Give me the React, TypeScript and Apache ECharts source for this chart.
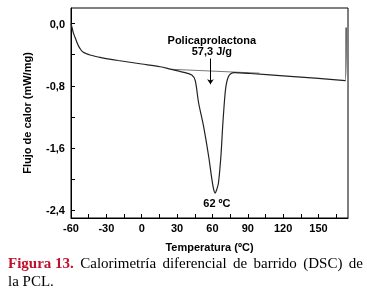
import React, { useEffect, useRef } from "react";
import * as echarts from "echarts";

const curveX = [-60, -59, -58, -56.6, -55, -53.8, -51.5, -49.5, -46.7, -43.9, -35.4, -20, 0, 15.6, 24.1, 35, 42.5, 45.4, 48.2, 52.4, 56.7, 59.5, 61, 62.3, 63.5, 65.1, 67.2, 68.9, 70.8, 72, 73.6, 75.5, 78.5, 92, 120, 150, 172.8, 173.4];
const curveY = [0, -0.06, -0.12, -0.177, -0.24, -0.284, -0.34, -0.37, -0.39, -0.404, -0.435, -0.475, -0.52, -0.555, -0.585, -0.625, -0.662, -0.735, -1.015, -1.316, -1.7, -2.0, -2.13, -2.18, -2.14, -2.05, -1.7, -1.27, -0.886, -0.76, -0.68, -0.645, -0.632, -0.642, -0.672, -0.706, -0.735, -0.05];
const baselineX = [25, 100];
const baselineY = [-0.588, -0.638];
const xLabels = [-60, -30, 0, 30, 60, 90, 120, 150];
const xTicks = [-60, -45, -30, -15, 0, 15, 30, 45, 60, 75, 90, 105, 120, 135, 150, 165];
const yLabels = [-2.4, -1.6, -0.8, 0];
const yTicks = [-2.4, -2.0, -1.6, -1.2, -0.8, -0.4, 0];
const captionWords = ["Figura 13.", "Calorimetría", "diferencial", "de", "barrido", "(DSC)", "de"];
const captionLine2 = "la PCL.";

const FONT = "'Liberation Sans', Arial, sans-serif";
const SERIF = "'Liberation Serif', 'Times New Roman', serif";

function measure(text: string, font: string): number {
  const c = document.createElement("canvas");
  const ctx = c.getContext("2d");
  if (!ctx) return text.length * 7;
  ctx.font = font;
  return ctx.measureText(text).width;
}

export default function App() {
  const ref = useRef<HTMLDivElement>(null);
  useEffect(() => {
    if (!ref.current) return;
    const chart = echarts.init(ref.current, null, { renderer: "svg" });
    const curve = curveX.map((x, i) => [x, curveY[i]]);
    const baseline = baselineX.map((x, i) => [x, baselineY[i]]);

    const fonts = captionWords.map((_, i) => (i === 0 ? `bold 15px ${SERIF}` : `15px ${SERIF}`));
    const widths = captionWords.map((w, i) => measure(w, fonts[i]));
    const total = widths.reduce((a, b) => a + b, 0);
    const lineStart = 8;
    const lineEnd = 363;
    const gap = (lineEnd - lineStart - total) / (captionWords.length - 1);
    let cx = lineStart;
    const captionEls: any[] = captionWords.map((w, i) => {
      const el = {
        type: "text",
        x: cx,
        y: 263,
        style: {
          text: w,
          font: fonts[i],
          fill: i === 0 ? "#c0102a" : "#000",
          verticalAlign: "middle",
          align: "left",
        },
      };
      cx += widths[i] + gap;
      return el;
    });
    captionEls.push({
      type: "text",
      x: lineStart,
      y: 281,
      style: { text: captionLine2, font: `15px ${SERIF}`, fill: "#000", verticalAlign: "middle", align: "left" },
    });

    chart.setOption({
      animation: false,
      grid: {
        left: 71,
        right: 19,
        top: 8,
        bottom: 77,
        show: true,
        borderColor: "#000",
        borderWidth: 1,
      },
      xAxis: {
        type: "value",
        min: -60,
        max: 175,
        name: "Temperatura (ºC)",
        nameLocation: "middle",
        nameGap: 23,
        nameTextStyle: { fontFamily: FONT, fontWeight: "bold", fontSize: 11, color: "#000" },
        axisLine: { show: true, onZero: false, lineStyle: { color: "#000", width: 1 } },
        axisTick: { show: true, inside: true, length: 4, customValues: xTicks, lineStyle: { color: "#000" } },
        axisLabel: {
          customValues: xLabels,
          margin: 4,
          fontFamily: FONT,
          fontWeight: "bold",
          fontSize: 11,
          color: "#000",
        },
        splitLine: { show: false },
      },
      yAxis: {
        type: "value",
        min: -2.5,
        max: 0.2,
        name: "Flujo de calor (mW/mg)",
        nameLocation: "middle",
        nameGap: 39,
        nameTextStyle: { fontFamily: FONT, fontWeight: "bold", fontSize: 11, color: "#000" },
        axisLine: { show: true, onZero: false, lineStyle: { color: "#000", width: 1 } },
        axisTick: { show: true, inside: true, length: 4, customValues: yTicks, lineStyle: { color: "#000" } },
        axisLabel: {
          customValues: yLabels,
          margin: 6,
          fontFamily: FONT,
          fontWeight: "bold",
          fontSize: 11,
          color: "#000",
          formatter: (v: number) => v.toFixed(1).replace(".", ","),
        },
        splitLine: { show: false },
      },
      series: [
        {
          type: "line",
          data: baseline,
          showSymbol: false,
          lineStyle: { color: "#777", width: 1 },
          silent: true,
          markLine: {
            silent: true,
            symbol: ["none", "arrow"],
            symbolSize: 5,
            lineStyle: { color: "#000", width: 1, type: "solid" },
            label: { show: false },
            data: [[{ coord: [58.3, -0.45] }, { coord: [58.3, -0.78] }]],
          },
        },
        {
          type: "line",
          data: curve,
          showSymbol: false,
          smooth: 0.3,
          lineStyle: { color: "#222", width: 1.2 },
          silent: true,
          markPoint: {
            silent: true,
            symbol: "circle",
            symbolSize: 0,
            label: {
              show: true,
              fontFamily: FONT,
              fontWeight: "bold",
              fontSize: 11,
              color: "#000",
              position: "inside",
            },
            data: [
              { coord: [59.5, -0.215], value: "Policaprolactona", label: { formatter: "Policaprolactona" } },
              { coord: [59.5, -0.355], value: "57,3 J/g", label: { formatter: "57,3 J/g" } },
              { coord: [63.8, -2.31], value: "62 ºC", label: { formatter: "62 ºC" } },
            ],
          },
        },
      ],
      graphic: captionEls,
    });
    return () => chart.dispose();
  }, []);
  return <div ref={ref} style={{ position: "fixed", left: 0, top: 0, width: 367, height: 295 }} />;
}
